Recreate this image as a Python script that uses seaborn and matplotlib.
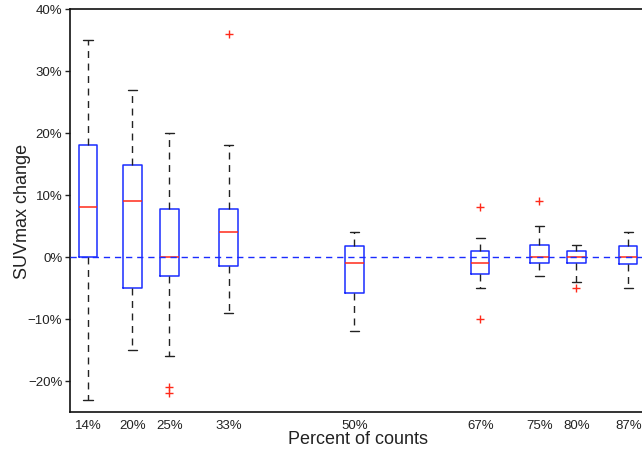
import numpy as np
import pandas as pd
import matplotlib
matplotlib.use("Agg")
import matplotlib.pyplot as plt
import seaborn as sns

# percent of counts used for each reconstruction
percent = [14, 20, 25, 33, 50, 67, 75, 80, 87]

# SUVmax change (%) per group
change_14 = [-23, -10, 0, 0, 3, 5, 8, 10, 14, 18, 20, 28, 35]
change_20 = [-15, -10, -7, -5, 2, 6, 9, 11, 13, 14.8, 18, 22, 27]
change_25 = [-22, -21, -16, -3, -2, -1, 0, 2, 5, 7.7, 10, 15, 20]
change_33 = [-9, -5, -3, -1.5, 1, 3, 4, 5, 6, 7.7, 12, 18, 36]
change_50 = [-12, -9, -7, -5.8, -4, -2, -1, 0, 1, 1.8, 2.5, 3, 4]
change_67 = [-10, -5, -4, -2.8, -2, -1.5, -1, -0.5, 0, 1, 2, 3, 8]
change_75 = [-3, -2, -1.5, -1, -0.5, -0.2, 0, 0.5, 1, 2, 3, 5, 9]
change_80 = [-5, -4, -2, -1, -0.5, -0.2, 0, 0.3, 0.5, 1, 1.5, 2, 2]
change_87 = [-5, -3, -2, -1.1, -0.5, -0.2, 0, 0.5, 1, 1.7, 2.5, 3, 4]

groups = [change_14, change_20, change_25, change_33, change_50,
          change_67, change_75, change_80, change_87]

df = pd.DataFrame({
    'percent': np.repeat(percent, [len(g) for g in groups]),
    'change': np.concatenate(groups),
})

sns.set_theme(style='ticks')
plt.rcParams['font.family'] = ['Liberation Sans', 'DejaVu Sans']

fig = plt.figure(figsize=(6.42, 4.52), dpi=100)
ax = fig.add_axes([70 / 642, 39 / 452, 575 / 642, 403 / 452])

sns.boxplot(data=df, x='percent', y='change', native_scale=True, orient='x',
            fill=False, width=0.5, linewidth=1, ax=ax,
            boxprops=dict(color='#1a2cff', linewidth=1.1),
            medianprops=dict(color='#ff2a1a', linewidth=1.1),
            whiskerprops=dict(color='#222222', linewidth=1, linestyle=(0, (5, 4))),
            capprops=dict(color='#222222', linewidth=1),
            flierprops=dict(marker='+', markeredgecolor='#ff2a1a', markersize=6,
                            markeredgewidth=1))

# zero reference line
ax.axhline(0, color='#1a2cff', linewidth=1, dashes=(4.5, 3.5), zorder=5)

ax.set_xlim(11.57, 89.27)
ax.set_ylim(-25, 40)
ax.set_xticks(percent)
ax.set_xticklabels([f'{p}%' for p in percent])
yt = [-20, -10, 0, 10, 20, 30, 40]
ax.set_yticks(yt)
ax.set_yticklabels([f'{v}%'.replace('-', '\u2212') for v in yt])

ax.tick_params(axis='x', length=0, pad=5, labelsize=9.5, labelcolor='#222222')
ax.tick_params(axis='y', length=3.5, width=1, pad=2, labelsize=9.5,
               labelcolor='#222222', color='#222222')
for s in ax.spines.values():
    s.set_linewidth(1.2)
    s.set_color('#111111')

ax.set_xlabel('Percent of counts', fontsize=13, color='#222222', labelpad=-1)
ax.set_ylabel('SUVmax change', fontsize=13, color='#222222', labelpad=-2)

plt.savefig('out.png', dpi=100)
